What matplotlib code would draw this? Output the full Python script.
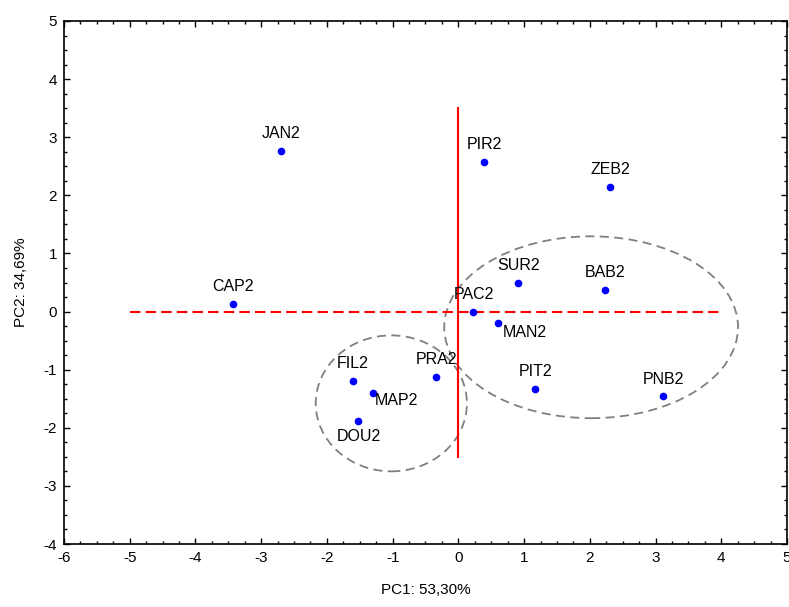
import numpy as np
import matplotlib
matplotlib.use("Agg")
import matplotlib.pyplot as plt
from matplotlib.patches import Ellipse
from matplotlib.ticker import MultipleLocator

plt.rcParams['font.family'] = ['Liberation Sans', 'DejaVu Sans']
plt.rcParams['axes.unicode_minus'] = False

# sample scores on the first two principal components
names = ["JAN2", "PIR2", "ZEB2", "CAP2", "SUR2", "BAB2", "PAC2", "MAN2",
         "FIL2", "PRA2", "MAP2", "DOU2", "PIT2", "PNB2"]
pc1 = [-2.70, 0.39, 2.31, -3.43, 0.91, 2.23, 0.23, 0.60,
       -1.61, -0.34, -1.30, -1.53, 1.17, 3.12]
pc2 = [2.77, 2.57, 2.14, 0.13, 0.49, 0.37, 0.00, -0.20,
       -1.19, -1.13, -1.40, -1.88, -1.33, -1.46]

# label placement (offset points, ha)
label_pos = {
    "MAP2": ((1, -5.5), 'left'),
    "MAN2": ((3.5, -7), 'left'),
    "DOU2": ((1, -11), 'center'),
}

# group ellipses: centre x, centre y, width, height
groups_cx = [-1.02, 2.02]
groups_cy = [-1.58, -0.27]
groups_w = [2.30, 4.47]
groups_h = [2.34, 3.13]

fig = plt.figure(figsize=(7.89, 6.07), dpi=100)
ax = fig.add_axes([64/789, 1 - 544/607, (787-64)/789, (544-21)/607])

# reference axes through origin
ax.plot([-5, 4], [0, 0], color='#ff0000', lw=1.5, ls=(0, (5, 2.5)), zorder=2)
ax.plot([0, 0], [-2.5, 3.5], color='#ff0000', lw=1.5, zorder=2)

for cx, cy, w, h in zip(groups_cx, groups_cy, groups_w, groups_h):
    ax.add_patch(Ellipse((cx, cy), w, h, fill=False, edgecolor='#808080',
                         lw=1.3, ls=(0, (5, 3)), zorder=1))

ax.plot(pc1, pc2, 'o', color='#0000ff', ms=4.5, zorder=3)

for n, x, y in zip(names, pc1, pc2):
    off, ha = label_pos.get(n, ((0, 12.5), 'center'))
    ax.annotate(n, (x, y), xytext=off, textcoords='offset points',
                ha=ha, va='center', fontsize=11.5, zorder=4)

ax.set_xlim(-6, 5)
ax.set_ylim(-4, 5)
ax.xaxis.set_major_locator(MultipleLocator(1))
ax.yaxis.set_major_locator(MultipleLocator(1))
ax.xaxis.set_minor_locator(MultipleLocator(0.25))
ax.yaxis.set_minor_locator(MultipleLocator(0.25))
ax.tick_params(which='both', direction='in', top=True, right=True,
               labelsize=11, pad=5)
ax.tick_params(which='major', length=4, width=1)
ax.tick_params(which='minor', length=2.5, width=1)
for s in ax.spines.values():
    s.set_linewidth(1.2)

ax.set_xlabel("PC1: 53,30%", fontsize=11, labelpad=13)
ax.set_ylabel("PC2: 34,69%", fontsize=11, labelpad=11)

fig.savefig("out.png", dpi=100)
